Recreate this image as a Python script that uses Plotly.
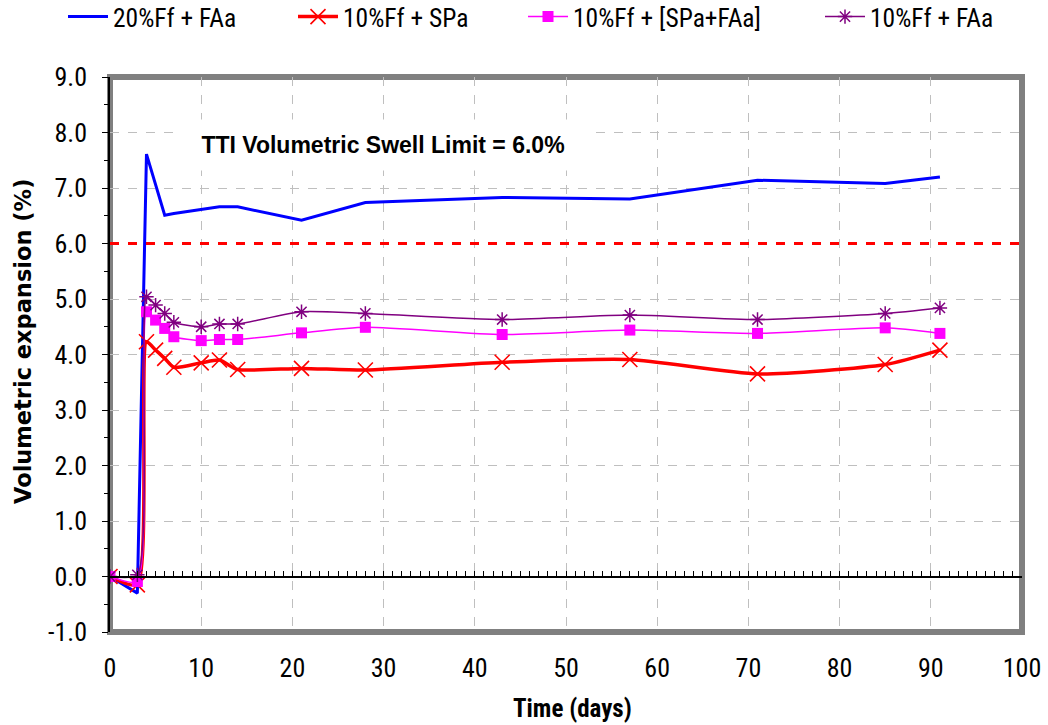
import plotly.graph_objects as go

# Measurement days and volumetric expansion (%) for each mix
DAYS = [0, 3, 4, 5, 6, 7, 10, 12, 14, 21, 28, 43, 57, 71, 85, 91]
DAYS_20FF_FAA = [0, 3, 4, 6, 7, 10, 12, 14, 21, 28, 43, 57, 71, 85, 91]

FF20_FAA = [0.0, -0.30, 7.61, 6.51, 6.54, 6.61, 6.66, 6.66, 6.42, 6.74, 6.83, 6.80, 7.14, 7.08, 7.20]
FF10_SPA = [0.0, -0.15, 4.23, 4.08, 3.93, 3.77, 3.85, 3.90, 3.73, 3.75, 3.72, 3.86, 3.91, 3.65, 3.82, 4.08]
FF10_SPA_FAA = [0.0, -0.09, 4.77, 4.62, 4.47, 4.32, 4.25, 4.27, 4.27, 4.39, 4.49, 4.36, 4.44, 4.38, 4.48, 4.38]
FF10_FAA = [0.0, 0.03, 5.04, 4.89, 4.74, 4.58, 4.50, 4.55, 4.55, 4.77, 4.74, 4.63, 4.71, 4.63, 4.74, 4.84]

SERIES_NAMES = ["20%Ff + FAa", "10%Ff + SPa", "10%Ff + [SPa+FAa]", "10%Ff + FAa"]

SWELL_LIMIT = 6.0
LIMIT_LABEL = "TTI Volumetric Swell Limit = 6.0%"
X_TITLE = "Time (days)"
Y_TITLE = "Volumetric expansion (%)"

X_RANGE = [0, 100]
Y_RANGE = [-1.0, 9.0]
Y_TICKS = [-1.0, 0.0, 1.0, 2.0, 3.0, 4.0, 5.0, 6.0, 7.0, 8.0, 9.0]
Y_TICK_LABELS = ["-1.0", "0.0", "1.0", "2.0", "3.0", "4.0", "5.0", "6.0", "7.0", "8.0", "9.0"]

NARROW = "Roboto Condensed, Liberation Sans Narrow, Arial Narrow, DejaVu Sans Condensed, sans-serif"
REGULAR = "Liberation Sans, Arial, sans-serif"
WIDE = "DejaVu Sans, Verdana, sans-serif"

fig = go.Figure()

fig.add_trace(go.Scatter(
    x=DAYS_20FF_FAA, y=FF20_FAA, name=SERIES_NAMES[0], mode="lines",
    line=dict(color="#0000FF", width=3), legend="legend",
))
fig.add_trace(go.Scatter(
    x=DAYS, y=FF10_SPA, name=SERIES_NAMES[1], mode="lines+markers",
    line=dict(color="#FF0000", width=3.5, shape="spline", smoothing=0.6),
    marker=dict(symbol="x-thin-open", size=15, color="#FF0000",
                line=dict(color="#FF0000", width=1.6)),
    legend="legend2",
))
fig.add_trace(go.Scatter(
    x=DAYS, y=FF10_SPA_FAA, name=SERIES_NAMES[2], mode="lines+markers",
    line=dict(color="#FF00FF", width=1.5, shape="spline", smoothing=0.6),
    marker=dict(symbol="square", size=11, color="#FF00FF"),
    legend="legend3",
))
fig.add_trace(go.Scatter(
    x=DAYS, y=FF10_FAA, name=SERIES_NAMES[3], mode="lines+markers",
    line=dict(color="#800080", width=1.5, shape="spline", smoothing=0.6),
    marker=dict(symbol="asterisk-open", size=12, color="#800080",
                line=dict(color="#800080", width=1.5)),
    legend="legend4",
))

# Swell limit reference line, carried by the zero-crossing axis
fig.add_trace(go.Scatter(
    x=X_RANGE, y=[SWELL_LIMIT, SWELL_LIMIT], mode="lines", showlegend=False,
    line=dict(color="#FF0000", width=3, dash="dash"), xaxis="x2", hoverinfo="skip",
))

# Plot-area frame
fig.add_shape(type="rect", xref="paper", yref="paper", x0=0, x1=1, y0=0, y1=1,
              line=dict(color="#808080", width=6), layer="below")

fig.add_annotation(
    x=29.9, y=7.77, xref="x", yref="y", text="<b>%s</b>" % LIMIT_LABEL,
    showarrow=False, bgcolor="white", width=412, height=50, borderpad=0,
    font=dict(family=REGULAR, size=23, color="black"),
)

# Axis titles
fig.add_annotation(
    x=(572 - 110) / 912.0, y=(632 - 708) / 555.0, xref="paper", yref="paper",
    text="<b>%s</b>" % X_TITLE, showarrow=False, xanchor="center", yanchor="middle",
    font=dict(family=NARROW, size=25, color="black"),
)
fig.add_annotation(
    x=(23 - 110) / 912.0, y=(632 - 342) / 555.0, xref="paper", yref="paper",
    text="<b>%s</b>" % Y_TITLE, showarrow=False, textangle=-90,
    xanchor="center", yanchor="middle",
    font=dict(family=WIDE, size=22.5, color="black"),
)

legend_common = dict(
    orientation="h", xref="container", yref="container",
    yanchor="middle", y=1 - 17 / 725.0, xanchor="left",
    font=dict(family=NARROW, size=25.5, color="black"),
    bgcolor="rgba(0,0,0,0)", itemwidth=40,
)
fig.update_layout(
    legend=dict(x=63 / 1048.0, **legend_common),
    legend2=dict(x=293 / 1048.0, **legend_common),
    legend3=dict(x=523 / 1048.0, **legend_common),
    legend4=dict(x=820 / 1048.0, **legend_common),
)

fig.update_layout(
    width=1048, height=725,
    margin=dict(l=110, r=26, t=77, b=93, autoexpand=False),
    plot_bgcolor="white", paper_bgcolor="white",
    xaxis=dict(
        range=X_RANGE, dtick=10, tick0=0, showline=False, zeroline=False,
        showgrid=True, gridcolor="#BFBFBF", griddash="dash", gridwidth=1,
        ticks="outside", ticklen=13, tickcolor="rgba(0,0,0,0)",
        tickfont=dict(family=NARROW, size=26, color="black"),
    ),
    xaxis2=dict(
        range=X_RANGE, overlaying="x", anchor="free", position=0.1,
        showline=True, linecolor="black", linewidth=1.5,
        ticks="inside", dtick=1, tick0=0, ticklen=5, tickcolor="black", tickwidth=1,
        showticklabels=False, showgrid=False, zeroline=False,
    ),
    yaxis=dict(
        range=Y_RANGE, tickmode="array", tickvals=Y_TICKS, ticktext=Y_TICK_LABELS,
        showline=True, linecolor="black", linewidth=1.5, zeroline=False,
        showgrid=True, gridcolor="#BFBFBF", griddash="dash", gridwidth=1,
        ticks="outside", ticklen=6, tickcolor="black", ticklabelstandoff=10,
        minor=dict(tickmode="linear", tick0=-1, dtick=0.5, ticks="outside",
                   ticklen=4, tickcolor="black", showgrid=False),
        tickfont=dict(family=NARROW, size=26, color="black"),
    ),
)

fig.write_html("out.html")
